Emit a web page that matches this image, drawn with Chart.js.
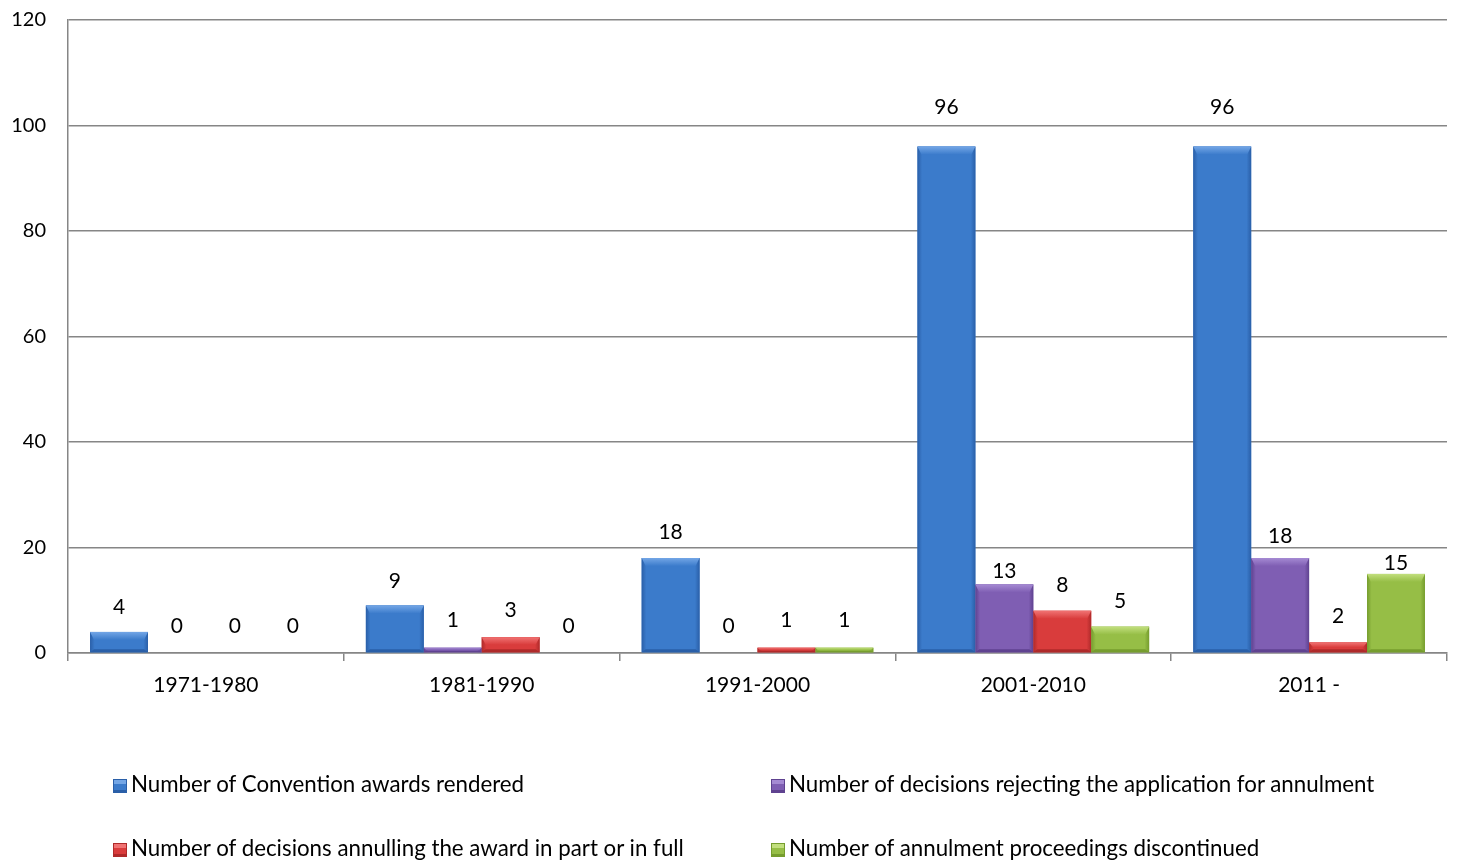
<!DOCTYPE html>
<html>
<head>
<meta charset="utf-8">
<script src="https://cdn.jsdelivr.net/npm/chart.js@4/dist/chart.umd.min.js"></script>
<style>
  html, body { margin: 0; padding: 0; background: #fff; }
  #wrap { position: relative; width: 1458px; height: 861px; }
  canvas { position: absolute; left: 0; top: 0; }
  .leg { position: absolute; font-family: Lato, "Open Sans", sans-serif; font-size: 22.3px; color: #000; white-space: nowrap; line-height: 24px; }
  .sw { display: inline-block; width: 14px; height: 14px; margin-right: 4px; vertical-align: -1px; box-sizing: border-box; }
</style>
</head>
<body>
<div id="wrap">
  <canvas id="c" width="1458" height="861"></canvas>
  <div id="legend"></div>
</div>
<script>
// ---- data ----
const categories = ["1971-1980", "1981-1990", "1991-2000", "2001-2010", "2011 -"];
const seriesNames = [
  "Number of Convention awards rendered",
  "Number of decisions rejecting the application for annulment",
  "Number of decisions annulling the award in part or in full",
  "Number of annulment proceedings discontinued"
];
const awardsRendered   = [4, 9, 18, 96, 96];
const rejected         = [0, 1, 0, 13, 18];
const annulled         = [0, 3, 1, 8, 2];
const discontinued     = [0, 0, 1, 5, 15];
const yTicks = [0, 20, 40, 60, 80, 100, 120];

// ---- styling (not data) ----
const palette = [
  { main: "#3B7BCB", light: "#73A6E6", dark: "#2A5FA8" },
  { main: "#7F5EB3", light: "#A58AD3", dark: "#5F4290" },
  { main: "#D93C3C", light: "#F07373", dark: "#AF2A2A" },
  { main: "#96BE46", light: "#C2DF7E", dark: "#769D2E" }
];
// label lift above bar top, in px
const labelLift = [
  [25, 24, 26, 39, 39],
  [27, 27, 27, 13, 22],
  [27, 27, 27, 26, 26],
  [27, 27, 27, 25, 11]
];
const FONT = "Lato, 'Open Sans', sans-serif";

const seriesValues = [awardsRendered, rejected, annulled, discontinued];

const bevelPlugin = {
  id: "bevel",
  afterDatasetsDraw(chart) {
    const ctx = chart.ctx;
    chart.data.datasets.forEach((ds, di) => {
      const meta = chart.getDatasetMeta(di);
      const col = palette[di];
      meta.data.forEach((bar, i) => {
        const p = bar.getProps(["x", "y", "base", "width"], true);
        const l = p.x - p.width / 2, r = p.x + p.width / 2;
        const t = Math.min(p.y, p.base), b = Math.max(p.y, p.base);
        const h = b - t;
        if (h <= 0) return;
        ctx.save();
        const g = ctx.createLinearGradient(l, 0, r, 0);
        g.addColorStop(0, col.dark);
        g.addColorStop(0.08, col.main);
        g.addColorStop(0.92, col.main);
        g.addColorStop(1, col.dark);
        ctx.fillStyle = g;
        ctx.fillRect(l, t, r - l, h);
        const bv = Math.min(8, h / 2);
        const sv = Math.min(4, h / 2);
        const tg = ctx.createLinearGradient(0, t, 0, t + bv);
        tg.addColorStop(0, col.light);
        tg.addColorStop(1, col.main);
        ctx.beginPath();
        ctx.moveTo(l, t); ctx.lineTo(r, t); ctx.lineTo(r - sv, t + bv); ctx.lineTo(l + sv, t + bv); ctx.closePath();
        ctx.fillStyle = tg; ctx.fill();
        const bb = Math.min(3, h / 3);
        ctx.beginPath();
        ctx.moveTo(l, b); ctx.lineTo(r, b); ctx.lineTo(r - sv, b - bb); ctx.lineTo(l + sv, b - bb); ctx.closePath();
        ctx.fillStyle = col.dark; ctx.fill();
        ctx.restore();
      });
    });
  },
  afterDraw(chart) {
    const ctx = chart.ctx;
    ctx.save();
    ctx.font = "21px " + FONT;
    ctx.fillStyle = "#000";
    ctx.textAlign = "center";
    ctx.textBaseline = "middle";
    chart.data.datasets.forEach((ds, di) => {
      const meta = chart.getDatasetMeta(di);
      meta.data.forEach((bar, i) => {
        const p = bar.getProps(["x", "y"], true);
        ctx.fillText(String(ds.data[i]), p.x, p.y - labelLift[di][i]);
      });
    });
    ctx.restore();
  }
};

new Chart(document.getElementById("c"), {
  type: "bar",
  data: {
    labels: categories,
    datasets: seriesNames.map((name, i) => ({
      label: name,
      data: seriesValues[i],
      backgroundColor: palette[i].main,
      borderWidth: 0,
      categoryPercentage: 0.84,
      barPercentage: 1.0
    }))
  },
  options: {
    responsive: false,
    animation: false,
    layout: { padding: { left: 0, right: 11, top: 20, bottom: 148 } },
    plugins: { legend: { display: false }, tooltip: { enabled: false } },
    scales: {
      x: {
        offset: true,
        grid: { offset: true, drawOnChartArea: false, drawTicks: true, tickLength: 8, color: "#868686", lineWidth: 1.5 },
        border: { color: "#868686", width: 1.5 },
        ticks: { color: "#000", font: { family: FONT, size: 21 }, padding: 12 },
        afterFit(s) { s.height = 60; s.paddingLeft = 0; s.paddingRight = 0; }
      },
      y: {
        min: 0, max: 120,
        afterBuildTicks(s) { s.ticks = yTicks.map(v => ({ value: v })); },
        grid: { color: "#868686", lineWidth: 1.5, drawTicks: false },
        border: { color: "#868686", width: 1.5 },
        ticks: { color: "#000", font: { family: FONT, size: 20 }, padding: 22 },
        afterFit(s) { s.width = 68; s.paddingTop = 0; s.paddingBottom = 0; }
      }
    }
  },
  plugins: [bevelPlugin]
});

// legend (HTML)
const legPos = [[113, 772], [771, 772], [113, 836], [771, 836]];
const legend = document.getElementById("legend");
seriesNames.forEach((name, i) => {
  const d = document.createElement("div");
  d.className = "leg";
  d.style.left = legPos[i][0] + "px";
  d.style.top = legPos[i][1] + "px";
  const sw = document.createElement("span");
  sw.className = "sw";
  sw.style.background = `linear-gradient(${palette[i].light} 0 30%, ${palette[i].main} 30% 80%, ${palette[i].dark} 80%)`;
  sw.style.border = `1px solid ${palette[i].dark}`;
  d.appendChild(sw);
  d.appendChild(document.createTextNode(name));
  legend.appendChild(d);
});
</script>
</body>
</html>
